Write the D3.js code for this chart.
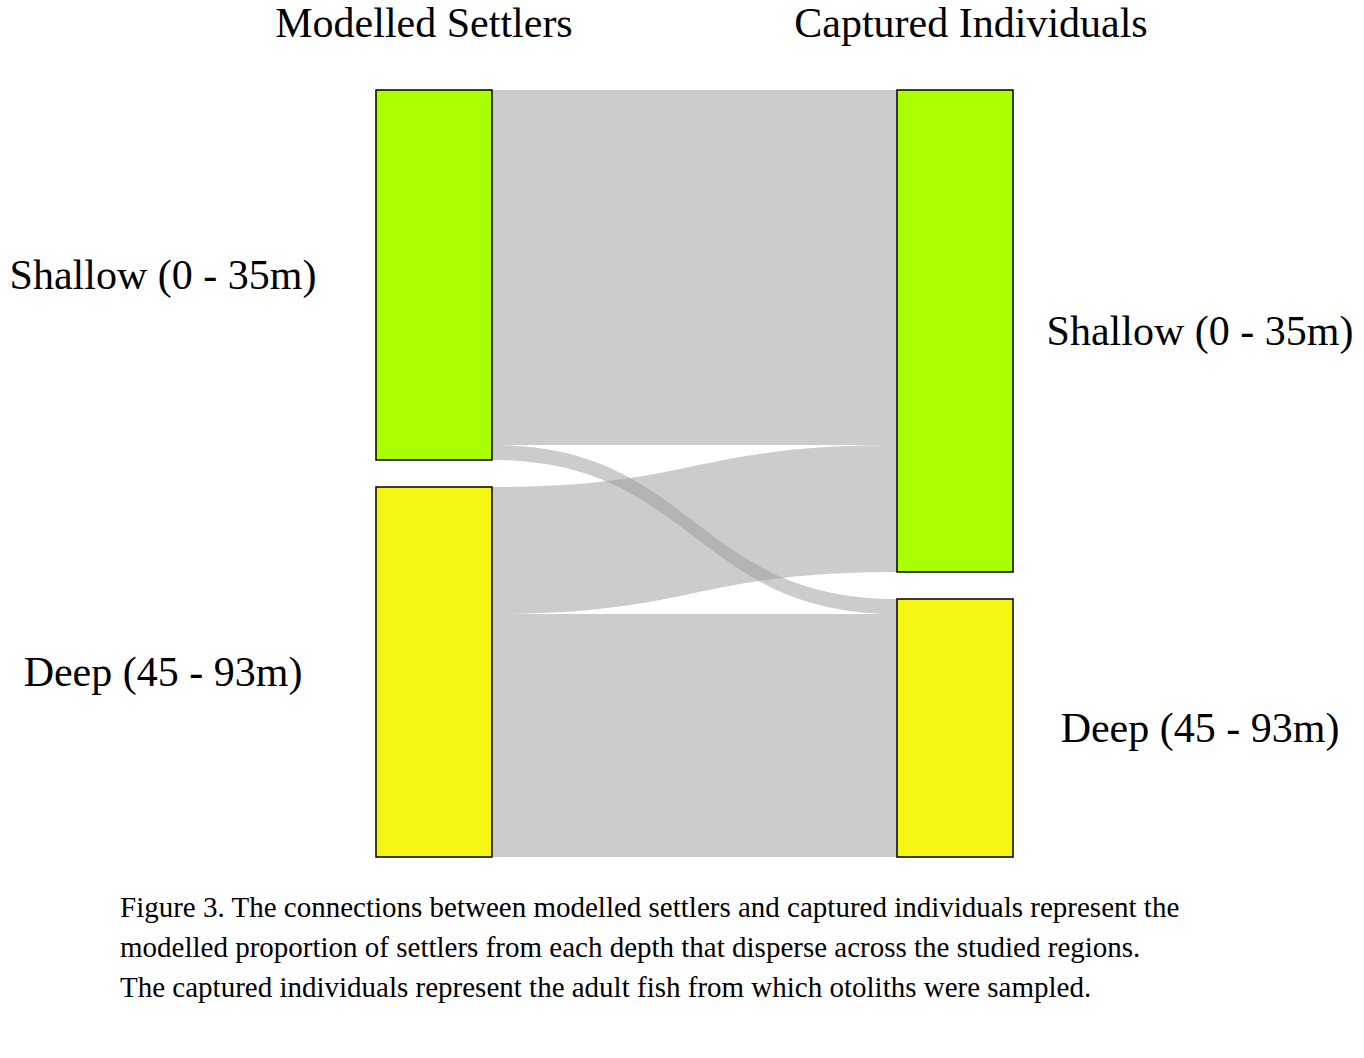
<!DOCTYPE html>
<html><head><meta charset="utf-8">
<script src="https://cdn.jsdelivr.net/npm/d3@7"></script>
<style>body{margin:0;background:#fff}</style>
</head><body>
<script>
// node data
const nodeNames = ['Shallow (0 - 35m)', 'Deep (45 - 93m)']
const nodeColors = ['#aaff00', '#f5f514']
const columnTitles = ['Modelled Settlers', 'Captured Individuals']
// flows: [source, target, value]
const links = [
    [0, 0, 355],
    [0, 1, 15],
    [1, 0, 127],
    [1, 1, 243]
]
const caption = [
    'Figure 3. The connections between modelled settlers and captured individuals represent the',
    'modelled proportion of settlers from each depth that disperse across the studied regions.',
    'The captured individuals represent the adult fish from which otoliths were sampled.'
]

const W = 1364, H = 1058
const svg = d3.select('body').append('svg').attr('width', W).attr('height', H)
const font = '"Liberation Serif", "Times New Roman", serif'

const total = d3.sum(links, d => d[2])
const gap = 27
const y = d3.scaleLinear().domain([0, total]).range([0, 767 - gap])
const colX = [376, 897], nodeW = 116, topY = 90

// node heights per column
function buildNodes(col) {
    const vals = nodeNames.map((_, i) => d3.sum(links.filter(l => l[col] === i), l => l[2]))
    let yy = topY
    return vals.map((v, i) => {
        const n = { y0: yy, y1: yy + y(v), off: yy }
        yy += y(v) + gap
        return n
    })
}
const left = buildNodes(0), right = buildNodes(1)

const linkShapes = links.map(([s, t, v]) => {
    const h = y(v)
    const a = left[s].off; left[s].off += h
    const b = right[t].off; right[t].off += h
    return { a, b, h }
})

const x0 = colX[0] + nodeW, x1 = colX[1], xm = (x0 + x1) / 2
svg.append('g').selectAll('path').data(linkShapes).join('path')
    .attr('d', d => `M${x0},${d.a}C${xm},${d.a} ${xm},${d.b} ${x1},${d.b}` +
        `L${x1},${d.b + d.h}C${xm},${d.b + d.h} ${xm},${d.a + d.h} ${x0},${d.a + d.h}Z`)
    .attr('fill', '#999').attr('fill-opacity', 0.5)

;[left, right].forEach((nodes, c) => {
    svg.append('g').selectAll('rect').data(nodes).join('rect')
        .attr('x', colX[c]).attr('y', d => d.y0)
        .attr('width', nodeW).attr('height', d => d.y1 - d.y0)
        .attr('fill', (d, i) => nodeColors[i])
        .attr('stroke', '#000').attr('stroke-width', 1.5)
    svg.append('g').selectAll('text').data(nodes).join('text')
        .attr('x', c === 0 ? 163 : 1200)
        .attr('y', d => (d.y0 + d.y1) / 2 + 14)
        .attr('text-anchor', 'middle')
        .style('font-family', font).style('font-size', '42px')
        .text((d, i) => nodeNames[i])
    svg.append('text')
        .attr('x', colX[c] + nodeW / 2 - 10 + c * 26).attr('y', 37)
        .attr('text-anchor', 'middle')
        .style('font-family', font).style('font-size', '42px')
        .text(columnTitles[c])
})

svg.append('g').selectAll('text').data(caption).join('text')
    .attr('x', 120).attr('y', (d, i) => 917 + i * 40)
    .style('font-family', font).style('font-size', '29px')
    .text(d => d)
</script>
</body></html>
